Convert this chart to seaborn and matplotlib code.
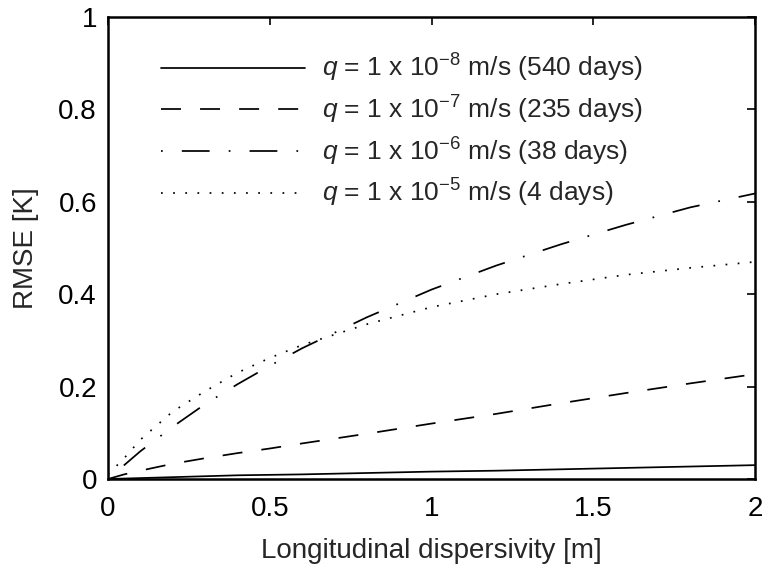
import pandas as pd
import matplotlib
matplotlib.use("Agg")
import matplotlib.pyplot as plt
import seaborn as sns

# longitudinal dispersivity [m]
x = [0, 0.05, 0.1, 0.2, 0.3, 0.4, 0.5, 0.6, 0.8, 1.0, 1.2, 1.4, 1.6, 1.8, 2.0]

rmse_1e8 = [0, 0.001, 0.002, 0.004, 0.006, 0.008, 0.009, 0.010, 0.013, 0.016, 0.018, 0.021, 0.024, 0.027, 0.030]
rmse_1e7 = [0, 0.010, 0.018, 0.033, 0.045, 0.056, 0.066, 0.077, 0.098, 0.120, 0.141, 0.164, 0.186, 0.207, 0.227]
rmse_1e6 = [0, 0.030, 0.060, 0.113, 0.162, 0.205, 0.245, 0.283, 0.350, 0.410, 0.462, 0.508, 0.550, 0.588, 0.618]
rmse_1e5 = [0.010, 0.045, 0.085, 0.146, 0.190, 0.230, 0.262, 0.290, 0.335, 0.372, 0.400, 0.422, 0.442, 0.457, 0.470]

labels = [
    r"$q$ = 1 x 10$^{-8}$ m/s (540 days)",
    r"$q$ = 1 x 10$^{-7}$ m/s (235 days)",
    r"$q$ = 1 x 10$^{-6}$ m/s (38 days)",
    r"$q$ = 1 x 10$^{-5}$ m/s (4 days)",
]

series = [rmse_1e8, rmse_1e7, rmse_1e6, rmse_1e5]
df = pd.concat(
    [pd.DataFrame({"x": x, "rmse": s, "case": lab}) for s, lab in zip(series, labels)],
    ignore_index=True,
)

sns.set_style("white")
plt.rcParams["font.family"] = ["Liberation Sans", "DejaVu Sans"]
plt.rcParams["mathtext.fontset"] = "custom"
plt.rcParams["mathtext.rm"] = "Liberation Sans"
plt.rcParams["mathtext.it"] = "Liberation Sans:italic"

dash_map = {
    labels[0]: "",
    labels[1]: (11.5, 11),
    labels[2]: (1, 11, 16, 11),
    labels[3]: (1, 6),
}

fig = plt.figure(figsize=(7.67, 5.67), dpi=100)
ax = fig.add_axes([0.1408, 0.1552, 0.8436, 0.8148])

sns.lineplot(data=df, x="x", y="rmse", style="case", dashes=dash_map,
             color="black", linewidth=1.25, ax=ax, legend=True)

ax.set_xlim(0, 2)
ax.set_ylim(0, 1)
ax.set_xticks([0, 0.5, 1, 1.5, 2])
ax.set_xticklabels(["0", "0.5", "1", "1.5", "2"])
ax.set_yticks([0, 0.2, 0.4, 0.6, 0.8, 1])
ax.set_yticklabels(["0", "0.2", "0.4", "0.6", "0.8", "1"])
ax.tick_params(direction="in", length=6, width=1.2, top=True, right=True,
               labelsize=20, colors="black")
ax.tick_params(axis="x", pad=12)
ax.tick_params(axis="y", pad=8)
for sp in ax.spines.values():
    sp.set_linewidth(1.8)
    sp.set_color("black")

ax.set_xlabel("Longitudinal dispersivity [m]", fontsize=20, labelpad=12)
ax.set_ylabel("RMSE [K]", fontsize=20, labelpad=14)

ax.legend(loc="upper left", bbox_to_anchor=(0.082, 0.924), frameon=False,
          fontsize=19, handlelength=5.45, handletextpad=0.64, labelspacing=0.36,
          borderpad=0, borderaxespad=0)

fig.savefig("out.png", dpi=100)
